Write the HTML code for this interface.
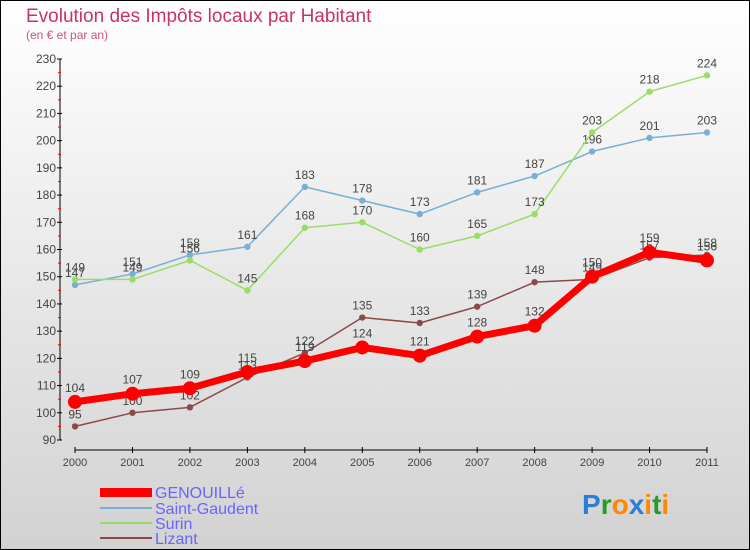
<!DOCTYPE html>
<html><head><meta charset="utf-8"><style>
body{margin:0}
#c{width:750px;height:550px;position:relative;overflow:hidden}
text{font-family:"Liberation Sans",sans-serif}
</style></head><body>
<div id="c">
<svg id="s" width="750" height="550" xmlns="http://www.w3.org/2000/svg">
<defs><linearGradient id="bg" x1="0" y1="0" x2="0" y2="1"><stop offset="0" stop-color="#ffffff"/><stop offset="1" stop-color="#d2d2d2"/></linearGradient></defs>
<rect x="0.5" y="0.5" width="749" height="549" fill="url(#bg)" stroke="#000"/>
<text x="26" y="22" font-size="19" fill="#c8345e">Evolution des Impôts locaux par Habitant</text>
<text x="26" y="39" font-size="12" fill="#c8557a">(en € et par an)</text>
<g id="axes"></g><g id="series"></g>
<g>
<rect x="100" y="488" width="52" height="9" fill="#ff0000"/>
<text x="155" y="498" font-size="16" fill="#6666ff">GENOUILLé</text>
<line x1="100" y1="508" x2="152" y2="508" stroke="#7aaed3" stroke-width="2"/>
<text x="155" y="514" font-size="16" fill="#6666ff">Saint-Gaudent</text>
<line x1="100" y1="523" x2="152" y2="523" stroke="#99dd66" stroke-width="2"/>
<text x="155" y="529" font-size="16" fill="#6666ff">Surin</text>
<line x1="100" y1="538" x2="152" y2="538" stroke="#8b4a4a" stroke-width="2"/>
<text x="155" y="544" font-size="16" fill="#6666ff">Lizant</text>
</g>
<text x="582" y="514" font-size="28" font-weight="bold"><tspan fill="#2a7fd4">P</tspan><tspan fill="#2a9a2a">r</tspan><tspan fill="#ff8800">o</tspan><tspan fill="#2a7fd4">x</tspan><tspan fill="#ff8800">i</tspan><tspan fill="#2a9a2a">t</tspan><tspan fill="#ff8800">i</tspan></text>
</svg></div>
<script>
const years=["2000","2001","2002","2003","2004","2005","2006","2007","2008","2009","2010","2011"];
const yTicks=[90,100,110,120,130,140,150,160,170,180,190,200,210,220,230];
const genouille=[104,107,109,115,119,124,121,128,132,150,159,156];
const saintGaudent=[147,151,158,161,183,178,173,181,187,196,201,203];
const surin=[149,149,156,145,168,170,160,165,173,203,218,224];
const lizant=[95,100,102,113,122,135,133,139,148,149,157,158];
const NS="http://www.w3.org/2000/svg";
function X(i){return 75+i*(707-75)/11;}
function Y(v){return 440-(v-90)*(440-59)/140;}
function mk(t,a,p){const e=document.createElementNS(NS,t);for(const k in a)e.setAttribute(k,a[k]);p.appendChild(e);return e;}
const ax=document.getElementById('axes');
const yl=mk('line',{x1:60,y1:Y(230),x2:60,y2:Y(90),stroke:'#000','stroke-width':1},ax);


yTicks.forEach((v,i)=>{
 mk('line',{x1:57,y1:Y(v),x2:62,y2:Y(v),stroke:'#000'},ax);
 if(i<yTicks.length-1)mk('line',{x1:58,y1:Y(v+5),x2:61,y2:Y(v+5),stroke:'#f00'},ax);
 const t=mk('text',{x:56,y:Y(v)+4,'font-size':12,fill:'#444','text-anchor':'end'},ax);t.textContent=v;
 
 
});
const xl=mk('line',{x1:X(0),y1:450,x2:X(11),y2:450,stroke:'#000'},ax);


years.forEach((y,i)=>{
 mk('line',{x1:X(i),y1:447,x2:X(i),y2:453,stroke:'#000'},ax);
 const t=mk('text',{x:X(i),y:466,'font-size':11,fill:'#444','text-anchor':'middle'},ax);t.textContent=y;
 
 
});
const sg=document.getElementById('series');
function draw(data,color,lw,r,name,dy){
 const g=mk('g',{},sg);
 
 
 const l=mk('polyline',{points:data.map((v,i)=>X(i)+','+Y(v)).join(' '),fill:'none',stroke:color,'stroke-width':lw,'stroke-linejoin':'round'},g);
 
 
 data.forEach((v,i)=>{
  const c=mk('circle',{cx:X(i),cy:Y(v),r:r,fill:color.dot||color},g);
  
  
  const t=mk('text',{x:X(i),y:Y(v)+dy,'font-size':12,fill:'#444','text-anchor':'middle'},g);t.textContent=v;
  
  
 });
}
draw(saintGaudent,'#7aaed3',1.5,3.2,'saint-gaudent',-8);
draw(surin,'#99dd66',1.5,3.2,'surin',-8);
draw(lizant,'#8b4a4a',1.5,3.2,'lizant',-8);
draw(genouille,'#ff0000',7,7,'genouille',-10);
</script>
</body></html>
